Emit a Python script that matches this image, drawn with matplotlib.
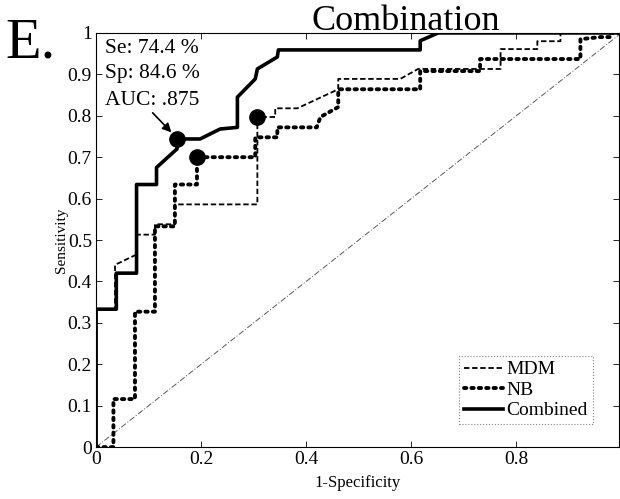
import matplotlib
matplotlib.use("Agg")
import matplotlib.pyplot as plt

# ROC curves (1-specificity, sensitivity)
mdm_x = [0, 0, 0.036, 0.036, 0.077, 0.077, 0.112, 0.112, 0.150, 0.150, 0.307, 0.307,
         0.341, 0.341, 0.383, 0.461, 0.461, 0.579, 0.613, 0.770, 0.770, 0.84, 0.84, 0.884, 0.884, 1.0]
mdm_y = [0, 0.333, 0.333, 0.44, 0.465, 0.513, 0.513, 0.538, 0.538, 0.586, 0.586, 0.797,
         0.797, 0.818, 0.818, 0.864, 0.889, 0.889, 0.913, 0.913, 0.961, 0.961, 0.98, 0.98, 1.0, 1.0]

nb_x = [0, 0.033, 0.033, 0.074, 0.074, 0.112, 0.112, 0.150, 0.150, 0.192, 0.192, 0.303, 0.303,
        0.345, 0.345, 0.42, 0.427, 0.461, 0.461, 0.617, 0.617, 0.731, 0.731, 0.922, 0.922, 0.96, 0.98, 0.98, 1.0]
nb_y = [0, 0, 0.116, 0.116, 0.327, 0.327, 0.533, 0.533, 0.634, 0.634, 0.70, 0.70, 0.748,
        0.748, 0.772, 0.772, 0.797, 0.821, 0.864, 0.864, 0.908, 0.908, 0.937, 0.937, 0.985, 0.99, 0.99, 1.0, 1.0]

comb_x = [0, 0, 0.0385, 0.0385, 0.077, 0.077, 0.115, 0.115, 0.154, 0.154, 0.198, 0.236, 0.269,
          0.269, 0.303, 0.307, 0.345, 0.347, 0.617, 0.617, 0.651, 1.0]
comb_y = [0, 0.333, 0.333, 0.42, 0.42, 0.634, 0.634, 0.675, 0.72, 0.744, 0.744, 0.768, 0.772,
          0.845, 0.889, 0.913, 0.942, 0.959, 0.959, 0.981, 1.0, 1.0]

op_x = [0.307, 0.192, 0.154]
op_y = [0.797, 0.70, 0.744]

ticks_x = [0, 0.2, 0.4, 0.6, 0.8]
ticklabels_x = ["0", "0.2", "0.4", "0.6", "0.8"]
ticks_y = [0, 0.1, 0.2, 0.3, 0.4, 0.5, 0.6, 0.7, 0.8, 0.9, 1]
ticklabels_y = ["0", "0.1", "0.2", "0.3", "0.4", "0.5", "0.6", "0.7", "0.8", "0.9", "1"]

plt.rcParams['font.family'] = ['Liberation Serif', 'DejaVu Serif']

fig = plt.figure(figsize=(6.2, 4.99), dpi=100)
ax = fig.add_axes([0.155, 0.104, 0.843, 0.830])

ax.plot([0, 1], [0, 1], color='0.35', lw=0.7, ls=(0, (6, 2, 1, 2)))
l1, = ax.plot(mdm_x, mdm_y, color='black', lw=1.3, ls=(0, (3, 1.5)), label='MDM')
l2, = ax.plot(nb_x, nb_y, color='black', lw=2.8, ls=(0, (0.6, 1.3)), dash_capstyle='round', label='NB')
l3, = ax.plot(comb_x, comb_y, color='black', lw=2.6, label='Combined')
ax.plot(op_x, op_y, 'o', color='black', ms=11, zorder=5)

ax.set_xlim(0, 0.995)
ax.set_ylim(0, 1)
ax.set_xticks(ticks_x)
ax.set_xticklabels(ticklabels_x)
ax.set_yticks(ticks_y)
ax.set_yticklabels(ticklabels_y)
ax.tick_params(direction='in', length=4, labelsize=14, top=True, right=True, width=0.6, pad=3)
for s in ax.spines.values():
    s.set_linewidth(0.8)

ax.set_xlabel('1-Specificity', fontsize=12, labelpad=5)
ax.set_ylabel('Sensitivity', fontsize=11, labelpad=0)

ax.text(0.016, 0.952, 'Se: 74.4 %', fontsize=15.5, transform=ax.transData)
ax.text(0.016, 0.890, 'Sp: 84.6 %', fontsize=15.5, transform=ax.transData)
ax.text(0.016, 0.826, 'AUC: .875', fontsize=15.5, transform=ax.transData)
ax.annotate('', xy=(0.147, 0.755), xytext=(0.104, 0.812),
            arrowprops=dict(arrowstyle='-|>', color='black', lw=1.2, mutation_scale=13))

leg = ax.legend(handles=[l1, l2, l3], loc='lower right', bbox_to_anchor=(0.95, 0.055),
                fontsize=14, frameon=True, fancybox=False, edgecolor='0.4',
                handlelength=2.0, handletextpad=0.2, borderpad=0.25, labelspacing=0.15,
                borderaxespad=0)
leg.get_frame().set_linewidth(0.8)
leg.get_frame().set_linestyle(':')

fig.text(0.655, 1 - 30 / 499, 'Combination', fontsize=26, ha='center', va='baseline')
fig.text(0.008, 1 - 58 / 499, 'E.', fontsize=42, ha='left', va='baseline')

fig.savefig('out.png', dpi=100)
